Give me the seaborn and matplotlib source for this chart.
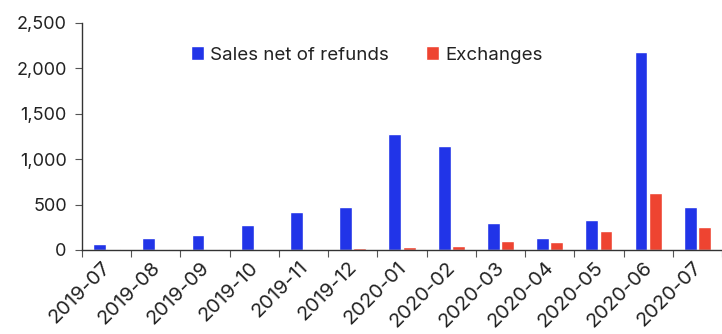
import matplotlib
matplotlib.use("Agg")
import matplotlib.pyplot as plt
import matplotlib.transforms as mtransforms
from matplotlib.ticker import FixedLocator, FuncFormatter
import seaborn as sns
import pandas as pd

months = ["2019-07", "2019-08", "2019-09", "2019-10", "2019-11", "2019-12",
          "2020-01", "2020-02", "2020-03", "2020-04", "2020-05", "2020-06", "2020-07"]
sales = [65, 128, 170, 277, 420, 472, 1280, 1140, 294, 128, 332, 2180, 475]
exchanges = [12, 12, 12, 12, 12, 18, 33, 44, 103, 92, 206, 630, 254]
series_names = ["Sales net of refunds", "Exchanges"]
colors = ["#2134E8", "#EE4431"]

df = pd.DataFrame({
    "month": months * 2,
    "value": sales + exchanges,
    "series": [series_names[0]] * len(months) + [series_names[1]] * len(months),
})

sns.set_style("white")
plt.rcParams["font.family"] = ["Inter", "DejaVu Sans"]

fig = plt.figure(figsize=(7.22, 3.34), dpi=100)
ax = fig.add_axes([0.1136, 0.2515, 0.8864, 0.6805])

sns.barplot(data=df, x="month", y="value", hue="series", palette=colors,
            width=0.58, gap=0.1, ax=ax, legend=True, saturation=1)

ax.set_xlim(-0.5, len(months) - 0.5)
ax.set_ylim(0, 2500)
ax.set_yticks([0, 500, 1000, 1500, 2000, 2500])
ax.yaxis.set_major_formatter(FuncFormatter(lambda v, p: f"{int(v):,}"))
ax.set_xlabel("")
ax.set_ylabel("")

for s in ["top", "right"]:
    ax.spines[s].set_visible(False)
for s in ["left", "bottom"]:
    ax.spines[s].set_color("#333333")
    ax.spines[s].set_linewidth(1.0)

ax.tick_params(axis="y", which="major", left=True, length=5, width=0.8,
               color="#555555", labelsize=13, labelcolor="#222222", pad=6)
ax.tick_params(axis="x", which="major", bottom=False, length=0,
               labelsize=14.5, labelcolor="#222222", pad=6)
ax.xaxis.set_minor_locator(FixedLocator([i - 0.5 for i in range(len(months) + 1)]))
ax.tick_params(axis="x", which="minor", bottom=True, length=5, width=0.8, color="#555555")
offset = mtransforms.ScaledTranslation(-5 / 100, 0, fig.dpi_scale_trans)
for lbl in ax.get_xticklabels():
    lbl.set_rotation(45)
    lbl.set_ha("right")
    lbl.set_rotation_mode("anchor")
    lbl.set_transform(lbl.get_transform() + offset)

leg = ax.legend(loc="upper center", bbox_to_anchor=(0.445, 0.97), ncol=2, frameon=False,
                fontsize=13.5, handlelength=0.7, handleheight=0.7, handletextpad=0.3,
                columnspacing=2.0)
for t in leg.get_texts():
    t.set_color("#222222")

fig.savefig("out.png", dpi=100)
